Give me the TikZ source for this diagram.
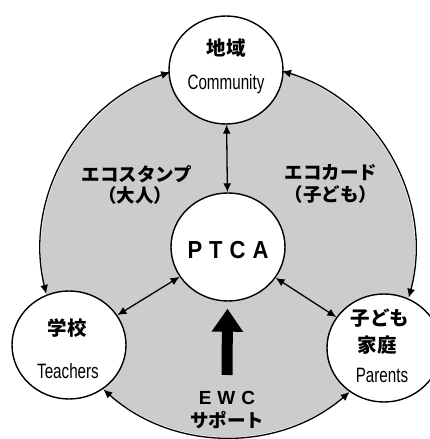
\documentclass[tikz,border=0pt]{standalone}
\usepackage{graphicx}
\usepackage{fontspec}
\setmainfont{Liberation Sans}
\newfontfamily\jp{Noto Sans CJK JP Black}
\usetikzlibrary{arrows.meta,shapes.geometric}
\definecolor{bggray}{RGB}{204,204,204}
\newcommand{\tallen}[1]{\scalebox{0.95}[1.3]{#1}}
\tikzset{
 bubble/.style={ellipse, draw, line width=1.4pt, fill=white, minimum width=114pt, minimum height=108pt, inner sep=0pt},
 link/.style={line width=1.3pt, {Latex[length=9pt,width=8pt]}-{Latex[length=9pt,width=8pt]}},
 jlab/.style={font=\jp\fontsize{19.5pt}{21pt}\selectfont, inner sep=0pt},
 elab/.style={font=\fontsize{16pt}{18pt}\selectfont, inner sep=0pt},
 midlab/.style={font=\jp\fontsize{18.5pt}{20pt}\selectfont, inner sep=0pt},
 bigarrow/.style={line width=11pt, -{Triangle[length=23pt,width=30pt]}},
}
\begin{document}
\begin{tikzpicture}[x=1pt,y=1pt]
\useasboundingbox (0,0) rectangle (430,439);
\fill[white] (0,0) rectangle (430,439);
\coordinate (bigc) at (228,189);
\fill[bggray] (bigc) circle[radius=187];
% circles
\node[bubble] (com) at (226,369) {};
\node[bubble] (ptca) at (228,192) {};
\node[bubble] (tea) at (69,94) {};
\node[bubble] (par) at (384,91) {};
% arcs
\draw[link] (bigc) ++(108:187) arc[start angle=108, end angle=193.6, radius=187];
\draw[link] (bigc) ++(73.2:187) arc[start angle=73.2, end angle=-14.8, radius=187];
\draw[link] (bigc) ++(228.2:187) arc[start angle=228.2, end angle=310.6, radius=187];
% straight links
\draw[link] (com) -- (ptca);
\draw[link] (ptca) -- (tea);
\draw[link] (ptca) -- (par);
% texts
\node[jlab] (t1) at (226,391) {地域};
\node[elab] (t2) at (226,355) {\tallen{Community}};
\node[jlab] (t3) at (67,111) {学校};
\node[elab] (t4) at (68,68) {\tallen{Teachers}};
\node[jlab] (t5) at (380,121) {子ども};
\node[jlab] (t6) at (377,94) {家庭};
\node[elab] (t7) at (382,64) {\tallen{Parents}};
\node[font=\bfseries\fontsize{22pt}{24pt}\selectfont, inner sep=0pt] (t8) at (228,189) {\scalebox{1}[1.12]{P\hspace{7pt}T\hspace{7pt}C\hspace{7pt}A}};
\node[midlab] (t9) at (137,265) {エコスタンプ};
\node[midlab] (t10) at (135,244) {（大人）};
\node[midlab] (t11) at (331,266) {エコカード};
\node[midlab] (t12) at (331,245) {（子ども）};
\node[font=\bfseries\fontsize{19pt}{21pt}\selectfont, inner sep=0pt] (t13) at (227,41) {E\hspace{6pt}W\hspace{6pt}C};
\node[midlab] (t14) at (227,19) {サポート};
% thick arrow
\coordinate (ewctop) at (227,64);
\draw[bigarrow, shorten >=7pt] (ewctop) -- (ptca);
\end{tikzpicture}
\end{document}
